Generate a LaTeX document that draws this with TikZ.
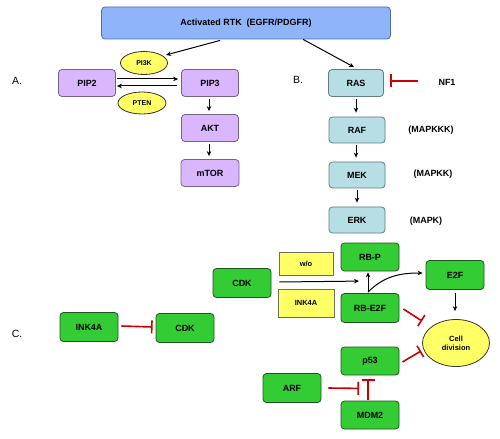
\documentclass[tikz,border=0pt]{standalone}
\usepackage{fontspec}
\setmainfont{Liberation Sans}
\usetikzlibrary{arrows.meta,calc,shapes.geometric}
\definecolor{rtkfill}{RGB}{143,180,250}
\definecolor{rtkdraw}{RGB}{80,110,175}
\definecolor{purfill}{RGB}{218,182,255}
\definecolor{purdraw}{RGB}{115,100,135}
\definecolor{tealfill}{RGB}{183,222,228}
\definecolor{tealdraw}{RGB}{95,125,130}
\definecolor{grnfill}{RGB}{52,204,52}
\definecolor{grndraw}{RGB}{30,85,30}
\definecolor{yelfill}{RGB}{255,255,102}
\definecolor{yeldraw}{RGB}{110,110,90}
\definecolor{inhred}{RGB}{204,0,0}
\begin{document}
\begin{tikzpicture}[x=1bp,y=-1bp,
  bx/.style={draw, rounded corners=3.5bp, line width=0.8bp, inner sep=0pt,
    minimum width=57bp, minimum height=27bp, font=\fontsize{9}{10}\selectfont\bfseries},
  rtkbox/.style={bx, fill=rtkfill, draw=rtkdraw, minimum width=289bp, minimum height=32bp},
  pur/.style={bx, fill=purfill, draw=purdraw},
  tl/.style={bx, fill=tealfill, draw=tealdraw, minimum width=56bp, minimum height=26bp},
  grn/.style={bx, fill=grnfill, draw=grndraw, minimum width=58bp, minimum height=29bp},
  yel/.style={draw=yeldraw, fill=yelfill, line width=0.8bp, inner sep=0pt,
    font=\fontsize{7.5}{8}\selectfont\bfseries},
  ell/.style={ellipse, draw=black!80, fill=yelfill, line width=0.8bp, inner sep=0pt,
    font=\fontsize{7}{7.5}\selectfont\bfseries},
  lbl/.style={font=\fontsize{10.5}{12}\selectfont},
  side/.style={font=\fontsize{9}{10}\selectfont\bfseries},
  act/.style={line width=1bp, -{Stealth[length=5bp,width=4.5bp]}},
  inh/.style={draw=inhred, line width=1.6bp, -{Bar[width=13bp]}}
]
\useasboundingbox (0,0) rectangle (500,439);
\fill[white] (0,0) rectangle (500,439);

% top
\node[rtkbox] (rtk) at (246,23) {Activated RTK \ (EGFR/PDGFR)};

% A
\node[lbl] (la) at (17,81) {A.};
\node[pur] (pip2) at (87,83) {PIP2};
\node[pur] (pip3) at (210,83) {PIP3};
\node[pur] (akt) at (210,128) {AKT};
\node[pur, minimum width=58bp] (mtor) at (210,173) {mTOR};
\node[ell, minimum width=47bp, minimum height=23bp] (pi3k) at (144,63) {PI3K};
\node[ell, minimum width=48bp, minimum height=22bp] (pten) at (142,103) {PTEN};

\draw[act] ($(rtk.south west)+(119,1)$) -- ($(pi3k.center)+(22,-8)$);
\draw[act] ($(pip2.east)+(1,-4)$) -- ($(pip3.west)+(-3,-4)$);
\draw[act] ($(pip3.west)+(-4,3)$) -- ($(pip2.east)+(1,3)$);
\draw[act] ($(pip3.south)+(-1,2)$) -- ($(akt.north)+(-1,-3)$);
\draw[act] ($(akt.south)+(-1,2)$) -- ($(mtor.north)+(-1,-3)$);

% B
\node[lbl] (lb) at (298,80) {B.};
\node[tl, minimum width=55bp, minimum height=27bp] (ras) at (356,83) {RAS};
\node[tl] (raf) at (357,130) {RAF};
\node[tl] (mek) at (357,175) {MEK};
\node[tl] (erk) at (357,220) {ERK};
\node[side] (nf1) at (447,82) {NF1};
\node[side] (mapkkk) at (431,130) {(MAPKKK)};
\node[side] (mapkk) at (433,174) {(MAPKK)};
\node[side] (mapk) at (426,221) {(MAPK)};

\draw[act] ($(rtk.south west)+(202,0)$) -- ($(ras.north)+(-2,-2)$);
\draw[inh] ($(nf1.west)+(-17,-1)$) -- ($(ras.east)+(6,-2)$);
\draw[act] ($(ras.south)+(0,2)$) -- ($(raf.north)+(-1,-4)$);
\draw[act] ($(raf.south)+(-1,2)$) -- ($(mek.north)+(-1,-4)$);
\draw[act] ($(mek.south)+(0,2)$) -- ($(erk.north)+(0,-4)$);

% C
\node[lbl] (lc) at (17,334) {C.};
\node[grn] (ink4aL) at (89,327) {INK4A};
\node[grn] (cdkL) at (185,328) {CDK};
\node[grn] (cdk) at (242,283) {CDK};
\node[yel, minimum width=54bp, minimum height=23bp] (wo) at (306,264) {w/o};
\node[yel, minimum width=56bp, minimum height=28bp] (ink4aY) at (306,303) {INK4A};
\node[grn, minimum height=28bp] (rbp) at (370,257) {RB-P};
\node[grn] (rbe2f) at (370,308) {RB-E2F};
\node[grn] (e2f) at (455,275) {E2F};
\node[ell, minimum width=67bp, minimum height=47bp, font=\fontsize{7.5}{9}\selectfont\bfseries, align=center] (cell) at (456,343) {Cell\\division};
\node[grn, minimum height=28bp] (p53) at (370,361) {p53};
\node[grn] (arf) at (292,388) {ARF};
\node[grn, minimum height=28bp] (mdm2) at (370,415) {MDM2};

\draw[inh] ($(ink4aL.east)+(3,-1)$) -- ($(cdkL.west)+(-3,-1)$);
\draw[act] ($(cdk.east)+(8,-1)$) -- ($(rbe2f.north)+(-11,-12)$);
\draw[act] ($(rbe2f.north)+(-2,-1)$) -- ($(rbp.south)+(-2,1)$);
\draw[act] ($(rbe2f.north)+(-2,-1)$) to[out=45,in=180] ($(e2f.west)+(-3,-2)$);
\draw[act] ($(e2f.south)+(0,3)$) -- ($(cell.north)+(-1,-8)$);
\draw[inh] ($(rbe2f.east)+(4,1)$) -- ($(cell.center)+(-34,-22)$);
\draw[inh] ($(p53.east)+(3,1)$) -- ($(cell.center)+(-35,8)$);
\draw[inh] ($(arf.east)+(7,0)$) -- ($(p53.south)+(-11,13)$);
\draw[inh] ($(mdm2.north)+(-2,-1)$) -- ($(p53.south)+(-2,4)$);
\end{tikzpicture}
\end{document}
